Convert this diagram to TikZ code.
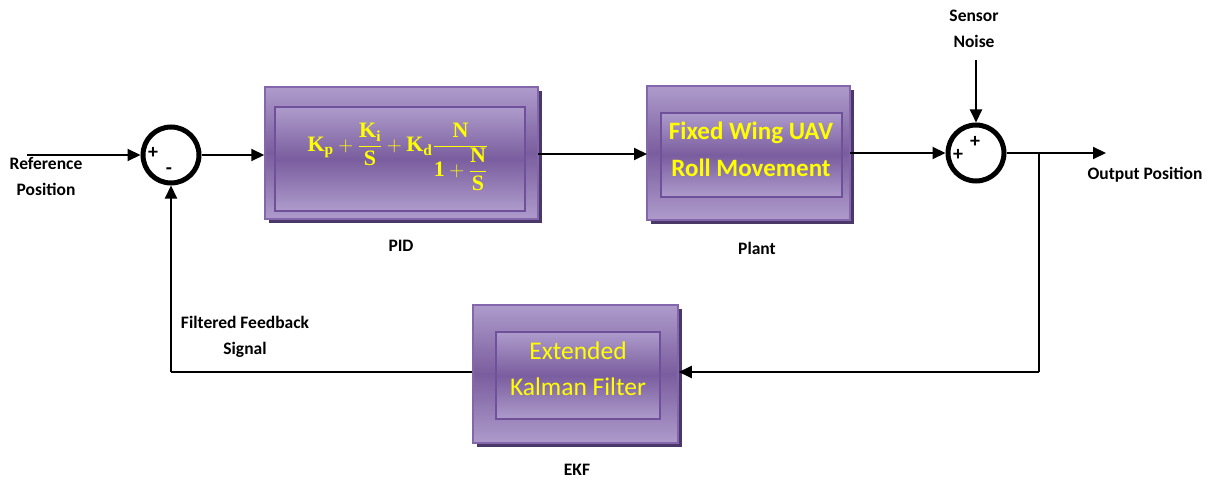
\documentclass[tikz,border=0pt]{standalone}
\usepackage{fontspec}
\setmainfont{Carlito}
\setmathrm{Liberation Serif}
\setboldmathrm{Liberation Serif}[BoldFont={Liberation Serif Bold}]
\usetikzlibrary{arrows.meta}
\definecolor{boxlight}{HTML}{AE9BCB}
\definecolor{boxdark}{HTML}{7A5D9E}
\definecolor{boxborder}{HTML}{8466AD}
\definecolor{innerborder}{HTML}{6E519A}
\definecolor{shadowcol}{HTML}{4A3868}
\definecolor{txtyellow}{HTML}{FFFF00}
\newcommand{\pidformula}{$\displaystyle\mathbf{K_p}+\frac{\mathbf{K_i}}{\mathbf{S}}+\mathbf{K_d}\frac{\mathbf{N}}{\mathbf{1}+\displaystyle\frac{\mathbf{N}}{\mathbf{S}}}$}
\tikzset{
  conn/.style={line width=2pt,-{Triangle[length=13pt,width=12pt]}},
  line/.style={line width=2pt},
  sumnode/.style={circle,draw,line width=5pt,minimum size=56pt,inner sep=0pt},
  outerbox/.style={draw=boxborder,line width=1.5pt,top color=boxlight,bottom color=boxlight,middle color=boxdark,inner sep=0pt},
  innerbox/.style={draw=innerborder,line width=2pt,top color=boxlight,bottom color=boxlight,middle color=boxdark,inner sep=0pt},
  shadowbox/.style={fill=shadowcol,draw=none,inner sep=0pt},
  boxtext/.style={text=txtyellow,align=center,inner sep=0pt},
  lbl/.style={font=\bfseries\fontsize{17.5}{26}\selectfont,align=center,inner sep=0pt},
  sign/.style={font=\bfseries\fontsize{20}{20}\selectfont,inner sep=0pt}
}
\begin{document}
\begin{tikzpicture}[x=1pt,y=-1pt]
\useasboundingbox (0,0) rectangle (1214,481);
% summing junctions
\node[sumnode] (s1) at (171,155) {};
\node[sumnode] (s2) at (976,153) {};
\node[sign] (s1p) at (153,153) {+};
\node[sign] (s1m) at (169,171) {-};
\node[sign] (s2a) at (958,155) {+};
\node[sign] (s2b) at (975,142) {+};
% PID
\node[shadowbox,minimum width=273pt,minimum height=132pt] (pidsh) at (405.5,157) {};
\node[outerbox,minimum width=273pt,minimum height=132pt] (pid) at (401.5,153) {};
\node[innerbox,minimum width=250pt,minimum height=103pt] (pidin) at (400,159) {};
\node[boxtext,font=\fontsize{22}{25}\selectfont] (pidtxt) at (398,157) {\pidformula};
\node[lbl] (pidl) at (401,246) {PID};
% Plant
\node[shadowbox,minimum width=203pt,minimum height=134pt] (plantsh) at (752.5,157) {};
\node[outerbox,minimum width=203pt,minimum height=134pt] (plant) at (748.5,153) {};
\node[innerbox,minimum width=181pt,minimum height=84pt] (plantin) at (751.5,155) {};
\node[boxtext,font=\bfseries\fontsize{25}{37}\selectfont] (planttxt) at (751,149) {Fixed Wing UAV\\Roll Movement};
\node[lbl] (plantl) at (757,248) {Plant};
% EKF
\node[shadowbox,minimum width=205pt,minimum height=138pt] (ekfsh) at (579.5,378) {};
\node[outerbox,minimum width=205pt,minimum height=138pt] (ekf) at (575.5,374) {};
\node[innerbox,minimum width=164pt,minimum height=87pt] (ekfin) at (578,375.5) {};
\node[boxtext,font=\fontsize{25.5}{36}\selectfont] (ekftxt) at (578,368.5) {Extended\\Kalman Filter};
\node[lbl] (ekfl) at (577,470) {EKF};
% labels
\node[lbl] (ref) at (46,176) {Reference\\Position};
\node[lbl] (noise) at (974,29) {Sensor\\Noise};
\node[lbl] (outl) at (1145,175) {Output Position};
\node[lbl] (fbl) at (245,337) {Filtered Feedback\\Signal};
% coordinates
\coordinate (refstart) at (27,155);
\coordinate (noisestart) at (976,60);
\coordinate (outend) at (1106,153);
\coordinate (br) at (1039,153);
\coordinate (brdown) at (1039,372);
\coordinate (fbcorner) at (171,372);
\coordinate (pidout) at (538,154);
\coordinate (plantin0) at (647,154);
\coordinate (plantout) at (850,153);
% connectors
\draw[conn] (refstart) -- (s1.west);
\draw[conn] (s1.east) -- (s1.east -| pid.west);
\draw[conn] (pidout) -- (plantin0);
\draw[conn] (plantout) -- (s2.west);
\draw[conn] (noisestart) -- (s2.north);
\draw[conn] (s2.east) -- (outend);
\draw[line] (br) -- (brdown);
\draw[conn] (brdown) -- (ekf.east |- brdown);
\draw[line] (ekf.west |- fbcorner) -- (fbcorner);
\draw[conn] (fbcorner) -- (s1.south);
\end{tikzpicture}
\end{document}
